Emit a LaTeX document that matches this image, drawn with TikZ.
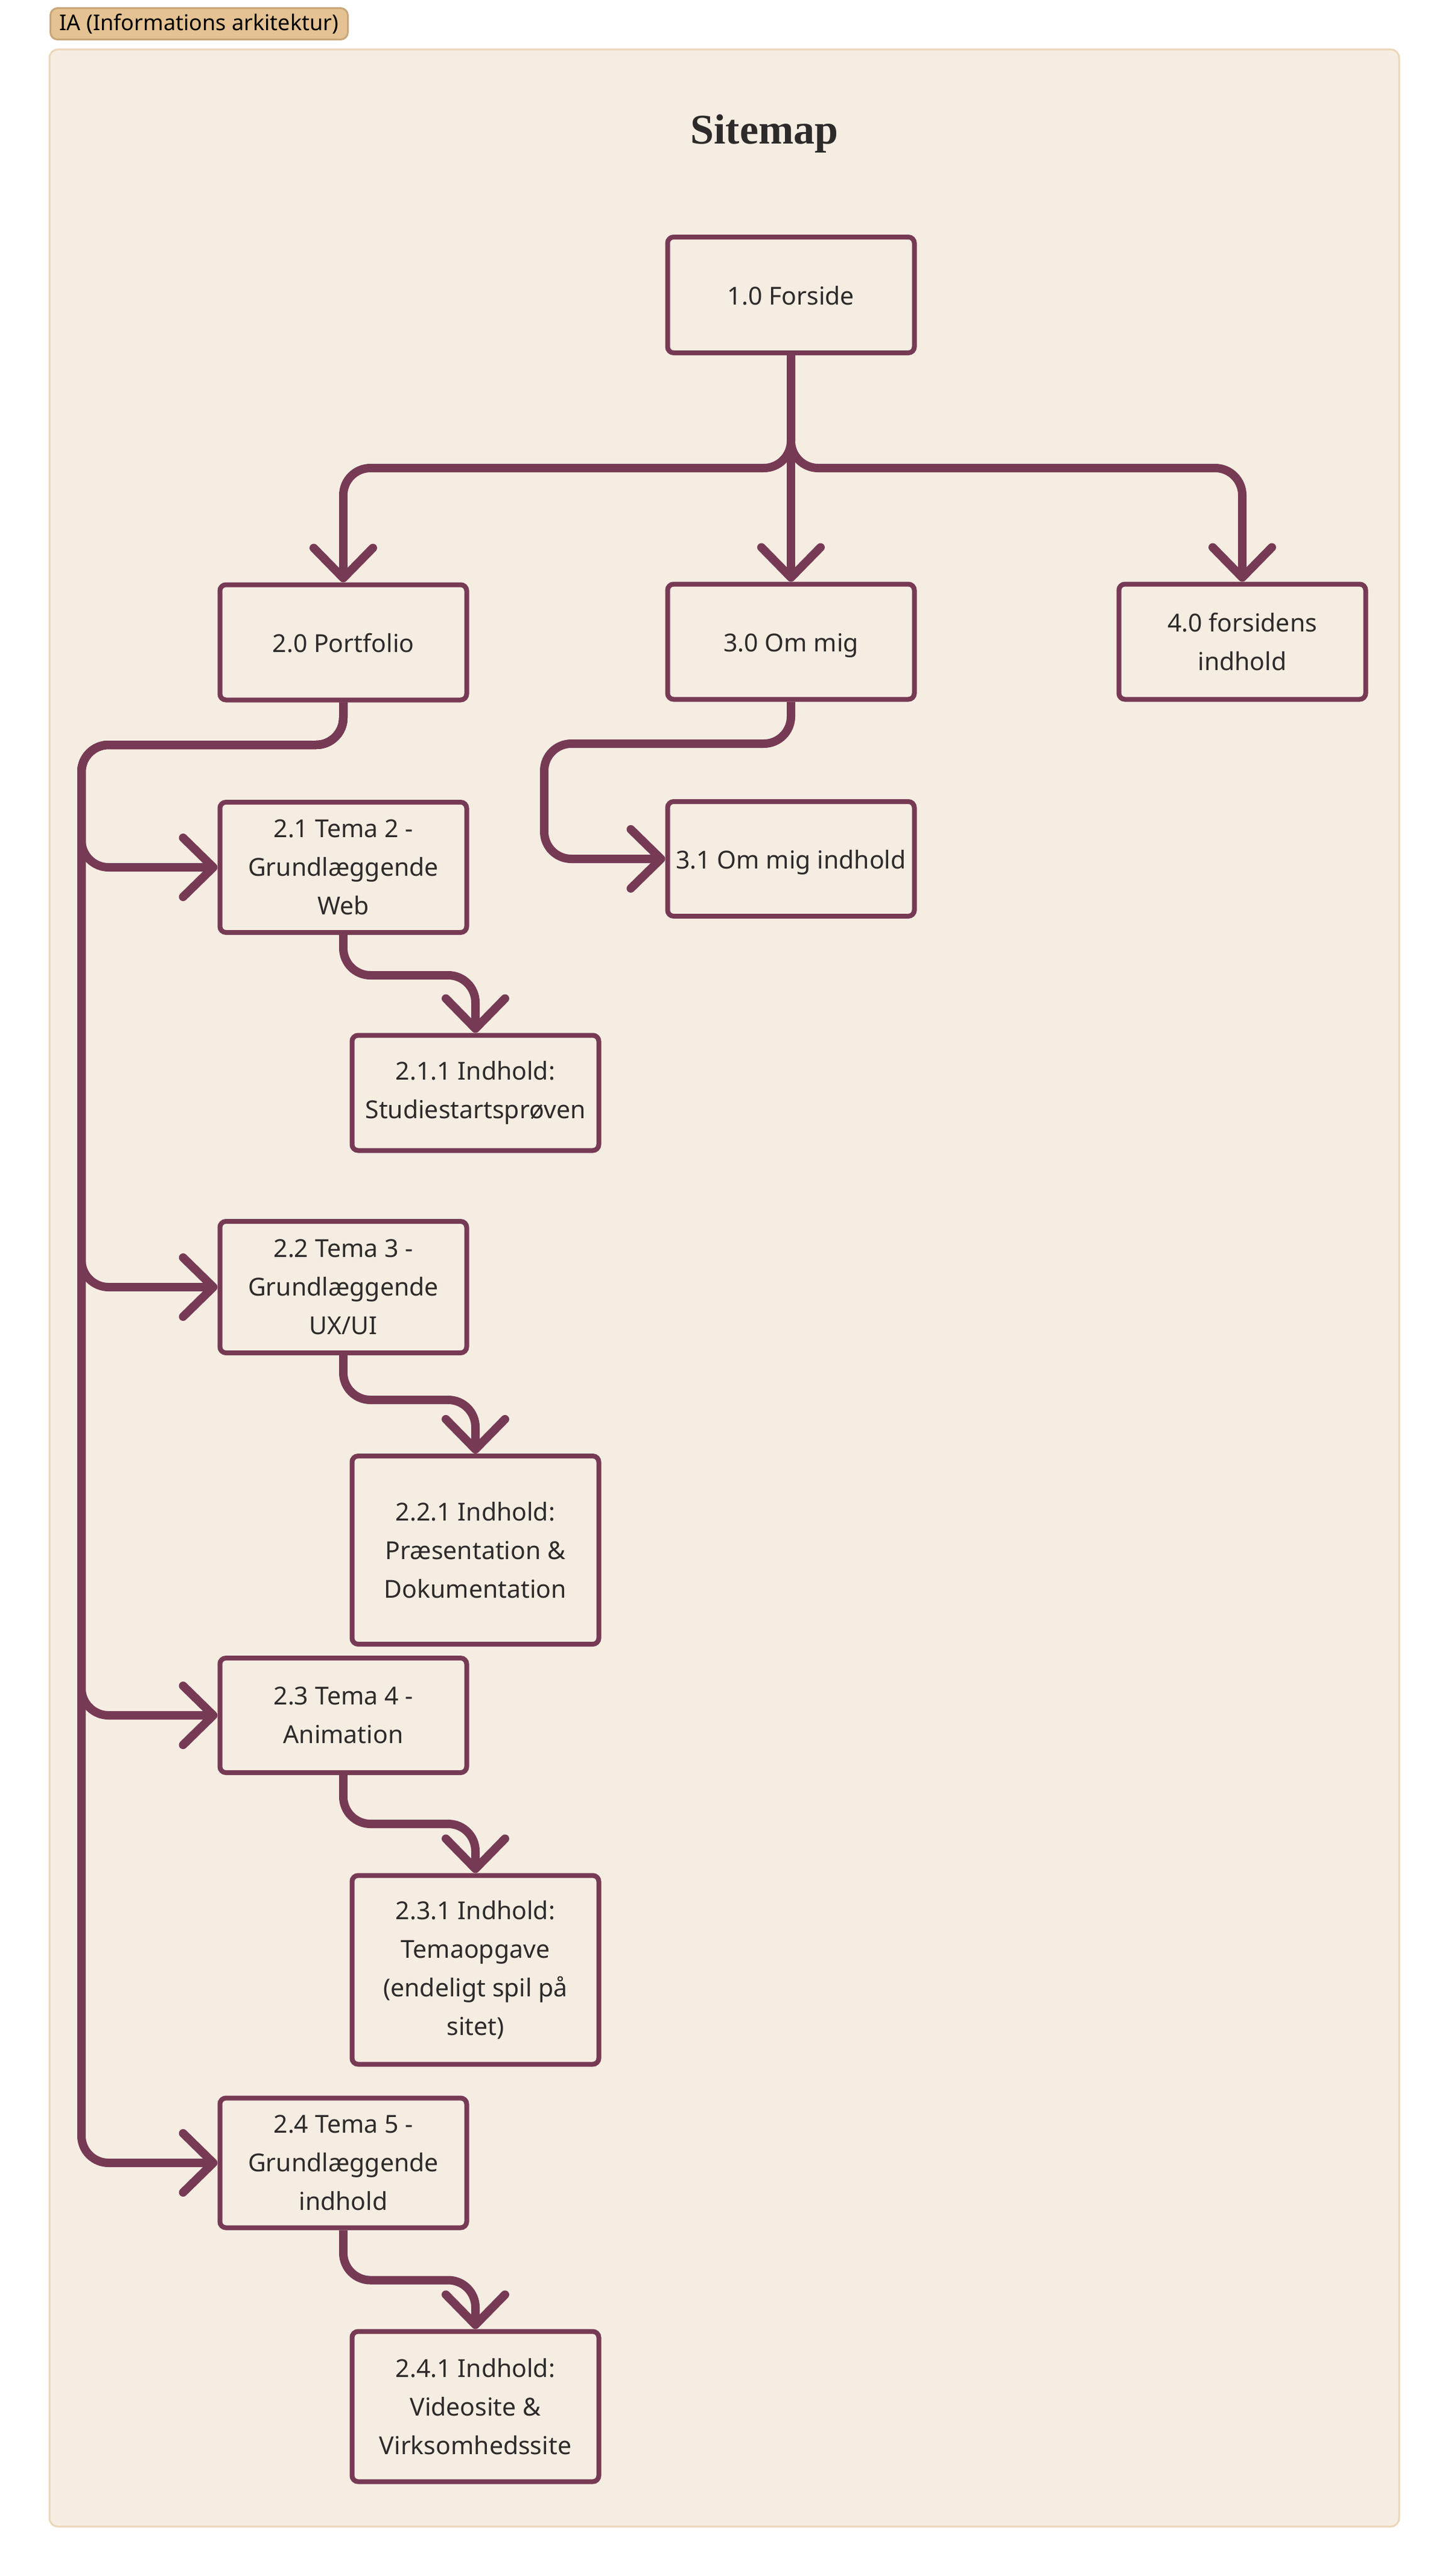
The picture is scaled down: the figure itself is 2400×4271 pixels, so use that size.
\documentclass[tikz,border=0pt]{standalone}
\usepackage{fontspec}
\setmainfont{Noto Sans}
\newfontfamily\titlefont{Liberation Serif}
\usetikzlibrary{arrows.meta}
\definecolor{plum}{HTML}{773A55}
\definecolor{panelbg}{HTML}{F5EDE2}
\definecolor{panelborder}{HTML}{EDD6B8}
\definecolor{tagfill}{HTML}{E4C293}
\definecolor{tagborder}{HTML}{C9A679}
\definecolor{txt}{HTML}{2D2A2A}
\begin{document}
\begin{tikzpicture}[x=1pt,y=-1pt,
  box/.style={draw=plum, line width=8pt, rounded corners=10pt, fill=panelbg,
    minimum width=409pt, align=center, text=txt, inner sep=0pt,
    font=\fontsize{41}{64}\selectfont},
  oneline/.style={text height=48pt, text depth=16pt},
  conn/.style={draw=plum, line width=14pt, rounded corners=45pt,
    -{Straight Barb[length=50pt,width=98pt,round]}},
  tagbox/.style={draw=tagborder, fill=tagfill, line width=3pt, rounded corners=12pt,
    minimum width=493pt, minimum height=52pt, inner sep=0pt, text=black,
    font=\fontsize{36}{40}\selectfont}]
\useasboundingbox (0,0) rectangle (2400,4271);
\fill[white] (0,0) rectangle (2400,4271);
% panel
\draw[draw=panelborder, fill=panelbg, line width=3pt, rounded corners=14pt]
  (82,82) rectangle (2319,4189);
% tag
\node[tagbox] (tag) at (330,39.5) {IA (Informations arkitektur)};
% title
\node[font=\titlefont\bfseries\fontsize{70}{80}\selectfont, text=txt] (title) at (1267,222) {Sitemap};
% boxes
\node[box, oneline, minimum height=192pt] (n10) at (1311,489) {1.0 Forside};
\node[box, oneline, minimum height=191pt] (n20) at (569,1065) {2.0 Portfolio};
\node[box, oneline, minimum height=191pt] (n30) at (1311,1064) {3.0 Om mig};
\node[box, minimum height=191pt] (n40) at (2059,1064) {4.0 forsidens\\indhold};
\node[box, minimum height=216pt] (n21) at (569,1438) {2.1 Tema 2 -\\Grundlæggende\\Web};
\node[box, oneline, minimum height=190pt] (n31) at (1311,1424) {3.1 Om mig indhold};
\node[box, minimum height=191pt] (n211) at (788,1812) {2.1.1 Indhold:\\Studiestartsprøven};
\node[box, minimum height=218pt] (n22) at (569,2134) {2.2 Tema 3 -\\Grundlæggende\\UX/UI};
\node[box, minimum height=312pt] (n221) at (788,2570) {2.2.1 Indhold:\\Præsentation \&\\Dokumentation};
\node[box, minimum height=190pt] (n23) at (569,2844) {2.3 Tema 4 -\\Animation};
\node[box, minimum height=313pt] (n231) at (788,3266) {2.3.1 Indhold:\\Temaopgave\\(endeligt spil på\\sitet)};
\node[box, minimum height=215pt] (n24) at (569,3586) {2.4 Tema 5 -\\Grundlæggende\\indhold};
\node[box, minimum height=249pt] (n241) at (788,3990) {2.4.1 Indhold:\\Videosite \&\\Virksomhedssite};
% helper coordinates
\coordinate (spine) at (135,1235);
\coordinate (c3) at (902,1233);
% connectors
\draw[conn] (n10.south) -- ++(0,187) -| (n20.north);
\draw[conn] (n10.south) -- (n30.north);
\draw[conn] (n10.south) -- ++(0,187) -| (n40.north);
\draw[conn] (n20.south) |- (spine) |- (n21.west);
\draw[conn] (n20.south) |- (spine) |- (n22.west);
\draw[conn] (n20.south) |- (spine) |- (n23.west);
\draw[conn] (n20.south) |- (spine) |- (n24.west);
\draw[conn] (n30.south) |- (c3) |- (n31.west);
\draw[conn] (n21.south) -- ++(0,67) -| (n211.north);
\draw[conn] (n22.south) -- ++(0,74) -| (n221.north);
\draw[conn] (n23.south) -- ++(0,81) -| (n231.north);
\draw[conn] (n24.south) -- ++(0,83) -| (n241.north);
\end{tikzpicture}
\end{document}
